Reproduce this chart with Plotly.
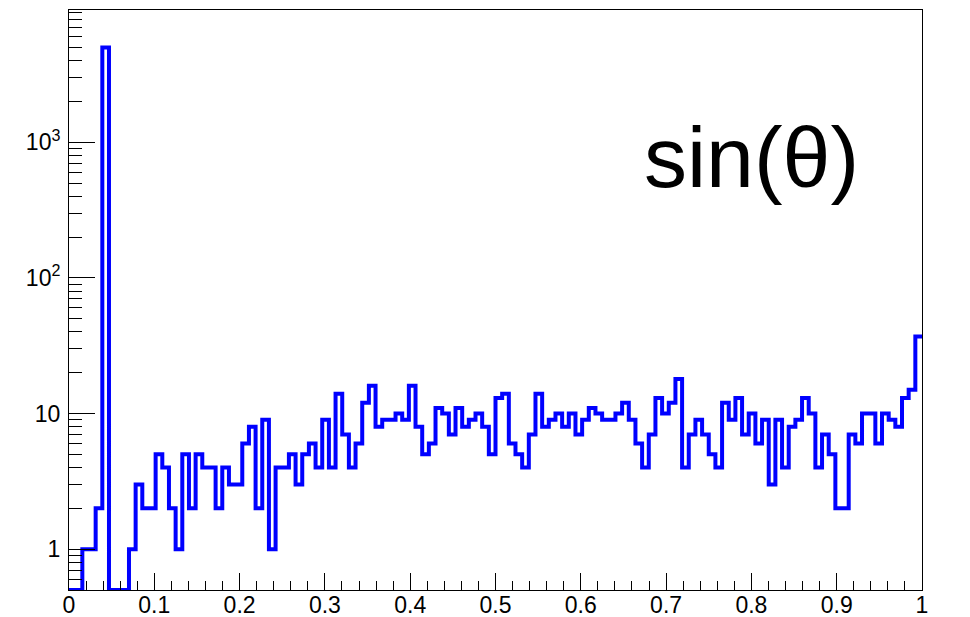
import numpy as np
import plotly.graph_objects as go

# ---- data ----
x_min, x_max, n_bins = 0.0, 1.0, 128
counts = [
    0, 0, 1, 1, 2, 5000, 0, 0, 0, 1, 3, 2, 2, 5, 4, 2,
    1, 5, 2, 5, 4, 4, 2, 4, 3, 3, 6, 8, 2, 9, 1, 4,
    4, 5, 3, 5, 6, 4, 9, 4, 14, 7, 4, 6, 12, 16, 8, 9,
    9, 10, 9, 16, 8, 5, 6, 11, 10, 7, 11, 8, 9, 10, 8, 5,
    13, 14, 6, 5, 4, 7, 14, 8, 9, 10, 8, 10, 7, 9, 11, 10,
    9, 9, 10, 12, 9, 6, 4, 7, 13, 10, 12, 18, 4, 7, 9, 7,
    5, 4, 12, 9, 13, 7, 10, 6, 9, 3, 9, 4, 8, 9, 13, 10,
    4, 7, 5, 2, 2, 7, 6, 10, 10, 6, 10, 9, 8, 13, 15, 37,
]
x_tick_vals = [0, 0.1, 0.2, 0.3, 0.4, 0.5, 0.6, 0.7, 0.8, 0.9, 1.0]
x_tick_text = ["0", "0.1", "0.2", "0.3", "0.4", "0.5", "0.6", "0.7", "0.8", "0.9", "1"]
y_tick_vals = [1, 10, 100, 1000]
y_tick_text = ["1", "10", "10<sup>2</sup>", "10<sup>3</sup>"]
label_text = "sin(θ)"

y_floor = 0.5
y_top_log = 3.975

edges = np.linspace(x_min, x_max, n_bins + 1)
vals = np.maximum(np.array(counts, dtype=float), y_floor)
y_line = np.append(vals, vals[-1])

minor_y = []
for dec in range(-1, 4):
    for m in range(2, 10):
        v = m * 10.0 ** dec
        if y_floor < v < 10 ** y_top_log:
            minor_y.append(v)

fig = go.Figure()
fig.add_trace(go.Scatter(
    x=edges, y=y_line, mode="lines", line_shape="hv",
    line=dict(color="#0000ff", width=4), hoverinfo="skip", showlegend=False,
))

font_family = "Liberation Sans, Arial, Helvetica, sans-serif"

fig.update_layout(
    width=970, height=617,
    margin=dict(l=69, r=48, t=10, b=27, pad=0),
    paper_bgcolor="white", plot_bgcolor="white",
    font=dict(family=font_family, color="black"),
    xaxis=dict(
        range=[x_min, x_max], showgrid=False, zeroline=False, automargin=False,
        showline=True, mirror=True, linecolor="black", linewidth=1,
        tickmode="array", tickvals=x_tick_vals, ticktext=x_tick_text,
        ticks="inside", ticklen=17, tickwidth=1, tickcolor="black",
        tickfont=dict(size=23, family=font_family), ticklabelstandoff=-6,
        minor=dict(dtick=0.02, tick0=0, ticks="inside", ticklen=9, tickwidth=1, tickcolor="black", showgrid=False),
    ),
    yaxis=dict(
        type="log", range=[np.log10(y_floor), y_top_log], showgrid=False, zeroline=False, automargin=False,
        showline=True, mirror=True, linecolor="black", linewidth=1,
        tickmode="array", tickvals=y_tick_vals, ticktext=y_tick_text,
        ticks="inside", ticklen=26, tickwidth=1, tickcolor="black",
        tickfont=dict(size=23, family=font_family), ticklabelstandoff=3,
        minor=dict(tickmode="array", tickvals=minor_y, ticks="inside", ticklen=13, tickwidth=1, tickcolor="black", showgrid=False),
    ),
    annotations=[dict(
        text=label_text, xref="paper", yref="paper", x=0.8, y=0.747,
        xanchor="center", yanchor="middle", showarrow=False,
        font=dict(size=86, family=font_family, color="black"),
    )],
)

fig.write_html(
    "out.html",
    config={"displayModeBar": False},
    post_script="document.body.style.margin='0';document.body.style.overflow='hidden';",
)
